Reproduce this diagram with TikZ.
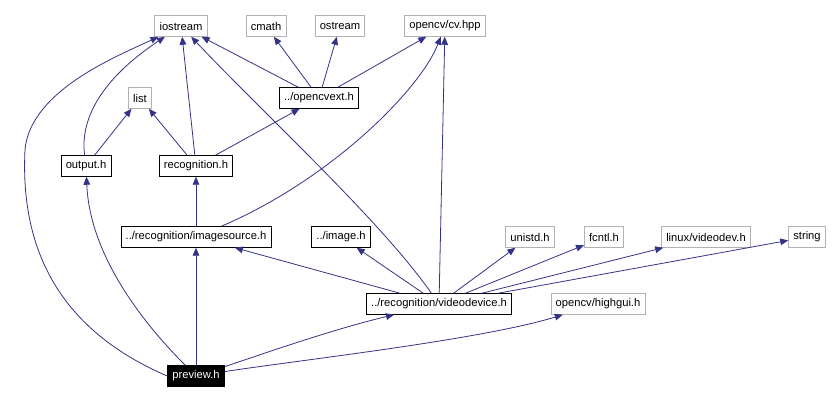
\documentclass[tikz,border=0pt]{standalone}
\usepackage{fontspec}
\setmainfont{Liberation Sans}
\usetikzlibrary{arrows.meta}
\begin{document}
\begin{tikzpicture}[x=0.75pt,y=-0.75pt,
 box/.style={draw=black,line width=0.6pt,fill=white,inner xsep=3.5pt,inner ysep=2pt,minimum height=15.5pt,font=\fontsize{8.4}{10}\selectfont},
 gbox/.style={box,draw=gray!60},
 dep/.style={draw=blue!40!black!80,line width=0.6pt,-{Triangle[length=6pt,width=5pt]}}]
\useasboundingbox (0,0) rectangle (833,401);
\node[gbox] (io) at (181,26) {iostream};
\node[gbox] (cm) at (266,26) {cmath};
\node[gbox] (os) at (340,26) {ostream};
\node[gbox] (cv) at (445,26) {opencv/cv.hpp};
\node[gbox] (li) at (140,98) {list};
\node[box] (ox) at (319,98) {../opencvext.h};
\node[box] (out) at (86,166) {output.h};
\node[box] (rec) at (196,166) {recognition.h};
\node[box] (is) at (196,237) {../recognition/imagesource.h};
\node[box] (im) at (341,237) {../image.h};
\node[gbox] (un) at (530,237) {unistd.h};
\node[gbox] (fc) at (604,237) {fcntl.h};
\node[gbox] (lv) at (706,237) {linux/videodev.h};
\node[gbox] (st) at (807,237) {string};
\node[box] (vd) at (439,304) {../recognition/videodevice.h};
\node[gbox] (hg) at (598,304) {opencv/highgui.h};
\node[box,fill=black,text=white] (pv) at (196,376) {preview.h};
\draw[dep] (pv.west) .. controls (60,330) and (20,250) .. (25,150) .. controls (30,90) and (120,55) .. (io);
\draw[dep] (pv) .. controls (150,330) and (90,260) .. (out);
\draw[dep] (pv) -- (is);
\draw[dep] (pv) .. controls (260,355) and (330,330) .. (vd);
\draw[dep] (pv) .. controls (300,360) and (480,340) .. (hg);
\draw[dep] (out) .. controls (80,120) and (100,80) .. (io);
\draw[dep] (out) -- (li);
\draw[dep] (rec) -- (li);
\draw[dep] (rec) -- (io);
\draw[dep] (rec) -- (ox);
\draw[dep] (ox) -- (io);
\draw[dep] (ox) -- (cm);
\draw[dep] (ox) -- (os);
\draw[dep] (ox) -- (cv);
\draw[dep] (is) -- (rec);
\draw[dep] (is) .. controls (330,180) and (420,90) .. (cv);
\draw[dep] (vd) -- (is);
\draw[dep] (vd) -- (im);
\draw[dep] (vd) .. controls (380,220) and (270,120) .. (io);
\draw[dep] (vd) -- (cv);
\draw[dep] (vd) -- (un);
\draw[dep] (vd) -- (fc);
\draw[dep] (vd) -- (lv);
\draw[dep] (vd) -- (st);
\end{tikzpicture}
\end{document}
